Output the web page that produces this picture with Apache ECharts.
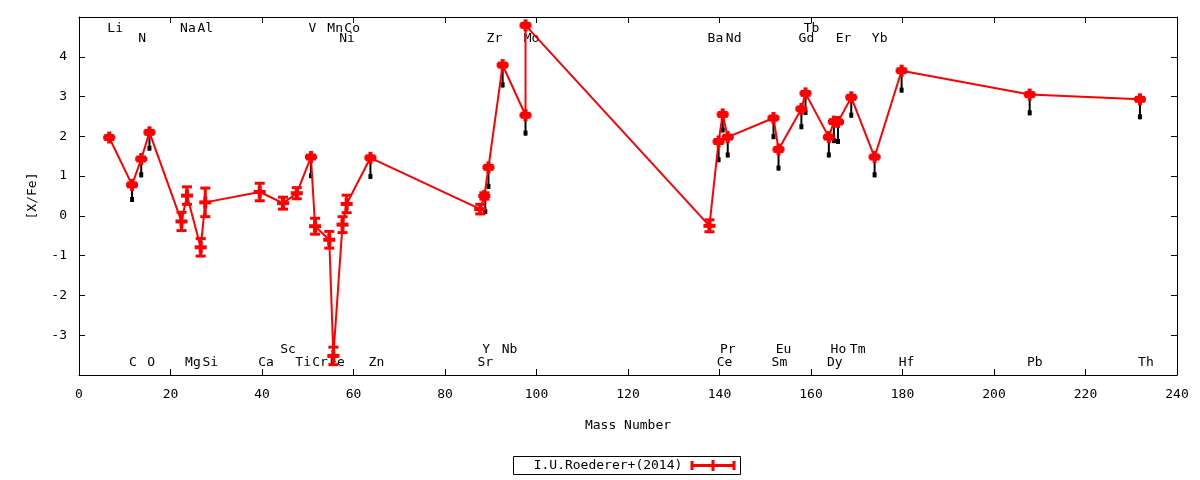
<!DOCTYPE html>
<html>
<head>
<meta charset="utf-8">
<script src="https://cdn.jsdelivr.net/npm/echarts@6/dist/echarts.min.js"></script>
<style>
html,body{margin:0;padding:0;background:#fff;}
#c{width:1200px;height:480px;}
</style>
</head>
<body>
<div id="c"></div>
<script>
// Red series: I.U.Roederer+(2014)
const redX   = [6.6, 11.6, 13.6, 15.4, 22.4, 23.6, 26.6, 27.6, 39.5, 44.6, 47.6, 50.7, 51.6, 54.7, 55.6, 57.6, 58.5, 63.7, 87.7, 88.6, 89.5, 92.6, 97.6, 97.6, 137.8, 139.8, 140.7, 141.8, 151.8, 152.9, 157.9, 158.8, 163.9, 165.0, 165.9, 168.8, 173.9, 179.8, 207.8, 231.9];
const redV   = [1.97, 0.78, 1.43, 2.10, -0.14, 0.51, -0.79, 0.34, 0.60, 0.32, 0.57, 1.48, -0.26, -0.60, -3.52, -0.22, 0.30, 1.46, 0.17, 0.50, 1.22, 3.79, 2.53, 4.79, -0.25, 1.87, 2.55, 1.98, 2.46, 1.67, 2.69, 3.08, 1.98, 2.37, 2.36, 2.98, 1.48, 3.65, 3.05, 2.93];
const redErr = [0.05, 0.05, 0.05, 0.05, 0.23, 0.22, 0.22, 0.36, 0.22, 0.15, 0.14, 0.05, 0.20, 0.21, 0.22, 0.20, 0.22, 0.05, 0.12, 0.08, 0.05, 0.05, 0.05, 0.05, 0.15, 0.05, 0.05, 0.05, 0.05, 0.05, 0.05, 0.05, 0.05, 0.05, 0.05, 0.05, 0.05, 0.05, 0.05, 0.05];

// Black marks (second data set, mostly hidden behind the red one)
const blackX    = [11.6, 13.6, 15.4, 50.7, 63.7, 88.8, 89.5, 92.6, 97.6, 139.8, 140.7, 141.8, 151.8, 152.9, 157.9, 158.8, 163.9, 165.0, 165.9, 168.8, 173.9, 179.8, 207.8, 231.9];
const blackLow  = [0.40, 1.02, 1.69, 1.00, 0.98, 0.10, 0.73, 3.28, 2.07, 1.40, 2.15, 1.52, 1.98, 1.19, 2.23, 2.59, 1.52, 1.88, 1.86, 2.52, 1.02, 3.15, 2.58, 2.48];
const blackHigh = [0.78, 1.43, 2.10, 1.48, 1.46, 0.45, 1.22, 3.79, 2.53, 1.87, 2.55, 1.98, 2.46, 1.67, 2.69, 3.08, 1.98, 2.37, 2.36, 2.98, 1.48, 3.65, 3.05, 2.93];

// Element labels
const elemNames = ['Li','Na','Al','V','Mn','Co','Tb',
                   'N','Ni','Zr','Mo','Ba','Nd','Gd','Er','Yb',
                   'Sc','Y','Nb','Pr','Eu','Ho','Tm',
                   'C','O','Mg','Si','Ca','Ti','Cr','Fe','Zn','Sr','Ce','Sm','Dy','Hf','Pb','Th'];
const elemX = [7.9, 23.8, 27.6, 51.0, 56.0, 59.7, 160.1,
               13.8, 58.6, 90.8, 98.9, 139.1, 143.1, 159.0, 167.1, 175.0,
               45.7, 89.0, 94.1, 141.8, 154.0, 166.0, 170.2,
               11.8, 15.8, 24.9, 28.7, 40.9, 49.0, 52.7, 56.4, 65.0, 88.8, 141.1, 153.1, 165.2, 180.9, 208.9, 233.2];
const elemY = [4.70, 4.70, 4.70, 4.70, 4.70, 4.70, 4.70,
               4.45, 4.45, 4.45, 4.45, 4.45, 4.45, 4.45, 4.45, 4.45,
               -3.35, -3.35, -3.35, -3.35, -3.35, -3.35, -3.35,
               -3.68, -3.68, -3.68, -3.68, -3.68, -3.68, -3.68, -3.68, -3.68, -3.68, -3.68, -3.68, -3.68, -3.68, -3.68, -3.68];

const xTicks = {min: 0, max: 240, interval: 20};
const yTicks = {min: -4, max: 5, interval: 1, shown: [-3, -2, -1, 0, 1, 2, 3, 4]};

const FONT = '"DejaVu Sans Mono", "Liberation Mono", monospace';
const FS = 13;
const RED = '#ff0000';

const chart = echarts.init(document.getElementById('c'), null, {renderer: 'canvas'});

const redData = redX.map((x, i) => [x, redV[i], redErr[i]]);
const blackData = blackX.map((x, i) => [x, blackLow[i], blackHigh[i]]);
const labelData = elemX.map((x, i) => [x, elemY[i], i]);

function axisCommon() {
  return {
    axisLine: {show: true, onZero: false, lineStyle: {color: '#000', width: 1}},
    axisTick: {show: true, inside: true, length: 6, lineStyle: {color: '#000', width: 1}},
    splitLine: {show: false}
  };
}

const option = {
  animation: false,
  backgroundColor: '#fff',
  grid: {left: 79, right: 23, top: 17, bottom: 105, containLabel: false},
  xAxis: [
    Object.assign({
      type: 'value', position: 'bottom', min: xTicks.min, max: xTicks.max, interval: xTicks.interval,
      name: 'Mass Number', nameLocation: 'middle', nameGap: 44,
      nameTextStyle: {fontFamily: FONT, fontSize: FS, color: '#000'},
      axisLabel: {fontFamily: FONT, fontSize: FS, color: '#000', margin: 13}
    }, axisCommon()),
    Object.assign({
      type: 'value', position: 'top', min: xTicks.min, max: xTicks.max, interval: xTicks.interval,
      axisLabel: {show: false}
    }, axisCommon())
  ],
  yAxis: [
    Object.assign({
      type: 'value', position: 'left', min: yTicks.min, max: yTicks.max, interval: yTicks.interval,
      name: '[X/Fe]', nameLocation: 'middle', nameGap: 40, nameRotate: 90,
      nameTextStyle: {fontFamily: FONT, fontSize: FS, color: '#000'},
      axisLabel: {fontFamily: FONT, fontSize: FS, color: '#000', margin: 12,
        formatter: v => (yTicks.shown.indexOf(v) >= 0 ? String(v) : '')}
    }, axisCommon()),
    Object.assign({
      type: 'value', position: 'right', min: yTicks.min, max: yTicks.max, interval: yTicks.interval,
      axisLabel: {show: false}
    }, axisCommon())
  ],
  series: [
    {
      type: 'custom', name: 'labels', z: 1,
      xAxisIndex: 0, yAxisIndex: 0, clip: false,
      data: labelData,
      renderItem: function (params, api) {
        const p = api.coord([api.value(0), api.value(1)]);
        return {
          type: 'text',
          style: {
            text: elemNames[api.value(2)], x: p[0], y: p[1],
            textAlign: 'center', textVerticalAlign: 'middle',
            font: FS + 'px ' + FONT, fill: '#000'
          }
        };
      }
    },
    {
      type: 'custom', name: 'black', z: 2,
      xAxisIndex: 0, yAxisIndex: 0, clip: false,
      data: blackData,
      renderItem: function (params, api) {
        const x = api.value(0);
        const lo = api.coord([x, api.value(1)]);
        const hi = api.coord([x, api.value(2)]);
        return {
          type: 'group',
          children: [
            {type: 'line', shape: {x1: lo[0], y1: lo[1] + 2, x2: hi[0], y2: hi[1]},
             style: {stroke: '#000', lineWidth: 2}},
            {type: 'rect', shape: {x: lo[0] - 2, y: lo[1] - 3, width: 4, height: 5},
             style: {fill: '#000'}}
          ]
        };
      }
    },
    {
      type: 'line', name: 'I.U.Roederer+(2014)', z: 3,
      xAxisIndex: 0, yAxisIndex: 0,
      data: redX.map((x, i) => [x, redV[i]]),
      showSymbol: false, symbol: 'none', silent: true,
      lineStyle: {color: RED, width: 2}
    },
    {
      type: 'custom', name: 'errorbars', z: 4,
      xAxisIndex: 0, yAxisIndex: 0, clip: false,
      data: redData,
      renderItem: function (params, api) {
        const x = api.value(0), y = api.value(1), e = api.value(2);
        const p = api.coord([x, y]);
        const t = api.coord([x, y + e]);
        const b = api.coord([x, y - e]);
        const st = {stroke: RED, lineWidth: 3};
        const cw = 5;
        return {type: 'group', children: [
          {type: 'line', shape: {x1: t[0], y1: t[1], x2: b[0], y2: b[1]}, style: st},
          {type: 'line', shape: {x1: t[0] - cw, y1: t[1], x2: t[0] + cw, y2: t[1]}, style: st},
          {type: 'line', shape: {x1: b[0] - cw, y1: b[1], x2: b[0] + cw, y2: b[1]}, style: st},
          {type: 'line', shape: {x1: p[0] - 6, y1: p[1], x2: p[0] + 6, y2: p[1]}, style: {stroke: RED, lineWidth: 4}},
          {type: 'line', shape: {x1: p[0], y1: p[1] - 6, x2: p[0], y2: p[1] + 6}, style: {stroke: RED, lineWidth: 4}}
        ]};
      }
    }
  ],
  graphic: [
    {type: 'rect', shape: {x: 513.5, y: 456.5, width: 227, height: 18},
     style: {fill: 'none', stroke: '#000', lineWidth: 1}},
    {type: 'text', x: 608, y: 465.5,
     style: {text: 'I.U.Roederer+(2014)', font: FS + 'px ' + FONT, fill: '#000', textAlign: 'center', textVerticalAlign: 'middle'}},
    {type: 'line', shape: {x1: 692, y1: 465.5, x2: 734, y2: 465.5}, style: {stroke: RED, lineWidth: 3}},
    {type: 'line', shape: {x1: 692, y1: 461, x2: 692, y2: 470}, style: {stroke: RED, lineWidth: 3}},
    {type: 'line', shape: {x1: 734, y1: 461, x2: 734, y2: 470}, style: {stroke: RED, lineWidth: 3}},
    {type: 'line', shape: {x1: 713, y1: 460, x2: 713, y2: 471}, style: {stroke: RED, lineWidth: 3}}
  ]
};

chart.setOption(option);
</script>
</body>
</html>
